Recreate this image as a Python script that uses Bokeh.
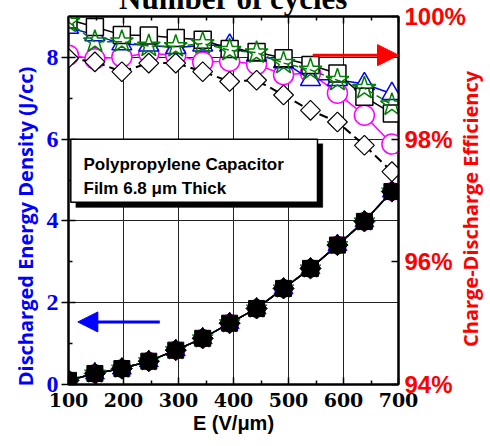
import numpy as np
from bokeh.plotting import figure
from bokeh.layouts import row
from bokeh.models import (Range1d, LinearAxis, FixedTicker, PrintfTickFormatter, Label,
                          BoxAnnotation, Arrow, NormalHead)
from bokeh.core.properties import value
from bokeh.embed import file_html
from bokeh.resources import INLINE

# ---------------- data ----------------
field = [100, 148, 197, 246, 295, 344, 393, 442, 491, 540, 589, 638, 688]

energy_square = [0.10, 0.27, 0.39, 0.57, 0.84, 1.13, 1.50, 1.86, 2.35, 2.84, 3.41, 3.99, 4.72]
energy_triangle = [0.10, 0.27, 0.39, 0.57, 0.84, 1.13, 1.50, 1.86, 2.35, 2.84, 3.41, 3.99, 4.72]
energy_circle = [0.10, 0.27, 0.39, 0.57, 0.84, 1.13, 1.50, 1.86, 2.35, 2.84, 3.41, 3.99, 4.72]
energy_star = [0.10, 0.27, 0.39, 0.57, 0.84, 1.13, 1.50, 1.86, 2.35, 2.84, 3.41, 3.99, 4.72]
energy_diamond = [0.10, 0.27, 0.39, 0.57, 0.84, 1.13, 1.50, 1.86, 2.35, 2.84, 3.41, 3.99, 4.72]

eff_square = [99.95, 99.83, 99.70, 99.69, 99.65, 99.62, 99.47, 99.42, 99.32, 99.21, 99.07, 98.69, 98.42]
eff_triangle = [99.82, 99.70, 99.55, 99.53, 99.49, 99.53, 99.53, 99.37, 99.26, 98.97, 98.97, 98.90, 98.74]
eff_circle = [99.37, 99.31, 99.34, 99.40, 99.37, 99.26, 99.27, 99.22, 99.05, 99.08, 98.75, 98.39, 97.92]
eff_star = [99.91, 99.59, 99.59, 99.52, 99.51, 99.56, 99.45, 99.41, 99.24, 99.13, 98.96, 98.83, 98.56]
eff_diamond = [99.32, 99.26, 99.10, 99.24, 99.24, 99.10, 98.94, 98.96, 98.72, 98.47, 98.28, 97.90, 97.47]

x_ticks = [100, 200, 300, 400, 500, 600, 700]
x_minor = [150, 250, 350, 450, 550, 650]
y_ticks = [0, 2, 4, 6, 8]
y_minor = [1, 3, 5, 7]
eff_ticks = [94, 96, 98, 100]

title_text = "Number of cycles"
left_label = "Discharged Energy Density (J/cc)"
right_label = "Charge-Discharge Efficiency"

BLUE = "#0000FF"
MAGENTA = "#FF00FF"
GREEN = "#008000"
RED = "#FF0000"
NBSP = "\u00a0"

SHIFT = 29  # part of the canvas pushed above the window (title is cut off there)

p = figure(width=490, height=446 + SHIFT, output_backend="svg", toolbar_location=None,
           x_range=Range1d(100, 700), y_range=Range1d(0, 9),
           min_border_left=68, min_border_right=92, min_border_top=16 + SHIFT,
           min_border_bottom=62,
           background_fill_color="white", border_fill_color="white")
p.margin = (-SHIFT, 0, 0, 0)
p.extra_y_ranges = {"eff": Range1d(94, 100)}

p.title.text = title_text
p.title.align = "center"
p.title.text_font = "Liberation Serif"
p.title.text_font_style = "bold"
p.title.text_font_size = "31px"
p.title.text_color = "black"
p.title.standoff = 2
p.title.offset = -6

p.outline_line_color = "black"
p.outline_line_width = 2
p.outline_line_alpha = 1

# grids
p.xgrid.ticker = FixedTicker(ticks=x_ticks)
p.ygrid.ticker = FixedTicker(ticks=y_ticks)
for g in (p.xgrid[0], p.ygrid[0]):
    g.grid_line_color = "#222222"
    g.grid_line_width = 1

# bottom axis
xa = p.xaxis[0]
xa.ticker = FixedTicker(ticks=x_ticks, minor_ticks=x_minor)
xa.axis_label = "E (V/\u03bcm)"
xa.axis_label_text_font = "Liberation Sans"
xa.axis_label_text_font_style = "bold"
xa.axis_label_text_font_size = "20px"
xa.axis_label_text_color = "black"
xa.axis_label_standoff = 2
xa.major_label_text_font = "DejaVu Serif"
xa.major_label_text_font_style = "bold"
xa.major_label_text_font_size = "19px"
xa.major_label_text_color = "black"
xa.major_label_standoff = 8
xa.major_tick_in = 7
xa.major_tick_out = 0
xa.minor_tick_in = 4
xa.minor_tick_out = 0
xa.axis_line_width = 2
xa.major_tick_line_width = 1.5
xa.minor_tick_line_width = 1.5

# left axis
ya = p.yaxis[0]
ya.ticker = FixedTicker(ticks=y_ticks, minor_ticks=y_minor)
ya.axis_label = left_label + NBSP * 10
ya.axis_label_text_font = "Open Sans"
ya.axis_label_text_font_style = "bold"
ya.axis_label_text_font_size = "20px"
ya.axis_label_text_color = BLUE
ya.axis_label_standoff = 5
ya.major_label_text_font = "Liberation Serif"
ya.major_label_text_font_style = "bold"
ya.major_label_text_font_size = "24px"
ya.major_label_text_color = BLUE
ya.major_label_standoff = 3
ya.major_tick_in = 7
ya.major_tick_out = 7
ya.minor_tick_in = 4
ya.minor_tick_out = 0
ya.axis_line_width = 2
ya.major_tick_line_width = 1.5
ya.minor_tick_line_width = 1.5

# right axis (its title is drawn in a narrow overlaid strip, reading bottom-to-top)
ra = LinearAxis(y_range_name="eff", ticker=FixedTicker(ticks=eff_ticks, num_minor_ticks=4),
                formatter=PrintfTickFormatter(format="%d%%"))
ra.major_label_text_font = "Liberation Sans"
ra.major_label_text_font_style = "bold"
ra.major_label_text_font_size = "24px"
ra.major_label_text_color = RED
ra.major_label_standoff = 6
ra.major_tick_in = 7
ra.major_tick_out = 0
ra.minor_tick_in = 4
ra.minor_tick_out = 0
ra.axis_line_width = 2
ra.major_tick_line_width = 1.5
ra.minor_tick_line_width = 1.5
p.add_layout(ra, "right")

# top axis (ticks only)
ta = LinearAxis(ticker=FixedTicker(ticks=x_ticks, minor_ticks=x_minor))
ta.major_label_text_font_size = "0px"
ta.major_label_standoff = 0
ta.major_tick_in = 7
ta.major_tick_out = 0
ta.minor_tick_in = 4
ta.minor_tick_out = 0
ta.axis_line_width = 2
ta.major_tick_line_width = 1.5
ta.minor_tick_line_width = 1.5
p.add_layout(ta, "above")

# ---------------- energy (filled, left axis) ----------------
p.line(field, energy_circle, line_color=MAGENTA, line_width=1.5)
p.scatter(field, energy_circle, marker="circle", size=18, fill_color=MAGENTA, line_color=MAGENTA)
p.line(field, energy_triangle, line_color=BLUE, line_width=1.5)
p.scatter(field, energy_triangle, marker="triangle", size=19, fill_color=BLUE, line_color=BLUE)
p.line(field, energy_star, line_color=GREEN, line_width=1.5)
p.scatter(field, energy_star, marker="star", size=22, fill_color=GREEN, line_color=GREEN)
p.line(field, energy_square, line_color="black", line_width=1.5)
p.scatter(field, energy_square, marker="square", size=16, fill_color="black", line_color="black")
p.line(field, energy_diamond, line_color="black", line_width=1.5, line_dash="8 4")
p.scatter(field, energy_diamond, marker="square", angle=np.pi / 4, size=15,
          fill_color="black", line_color="black")

# ---------------- efficiency (open, right axis) ----------------
p.line(field, eff_circle, y_range_name="eff", line_color=MAGENTA, line_width=1.5)
p.scatter(field, eff_circle, y_range_name="eff", marker="circle", size=20,
          fill_color="white", line_color=MAGENTA, line_width=1.5)
p.line(field, eff_diamond, y_range_name="eff", line_color="black", line_width=2, line_dash="9 5")
p.scatter(field, eff_diamond, y_range_name="eff", marker="square", angle=np.pi / 4, size=14,
          fill_color="white", line_color="black", line_width=1.2)
p.line(field, eff_triangle, y_range_name="eff", line_color=BLUE, line_width=1.5)
p.scatter(field, eff_triangle, y_range_name="eff", marker="triangle", size=20,
          fill_color="white", line_color=BLUE, line_width=1.5)
p.line(field, eff_square, y_range_name="eff", line_color="black", line_width=1.5)
p.scatter(field, eff_square, y_range_name="eff", marker="square", size=17,
          fill_color="white", line_color="black", line_width=1.5)
p.line(field, eff_star, y_range_name="eff", line_color=GREEN, line_width=1.5, line_dash="6 3")
p.scatter(field, eff_star, y_range_name="eff", marker="star", size=24,
          fill_color=None, line_color=GREEN, line_width=1.5)

# ---------------- annotations ----------------
p.add_layout(Arrow(end=NormalHead(size=21, fill_color=RED, line_color=RED),
                   x_start=544, y_start=99.37, x_end=700, y_end=99.37, y_range_name="eff",
                   line_color=RED, line_width=3))
p.add_layout(Arrow(end=NormalHead(size=20, fill_color=BLUE, line_color=BLUE),
                   x_start=266, y_start=1.53, x_end=117, y_end=1.53,
                   line_color=BLUE, line_width=3))

p.add_layout(BoxAnnotation(left=113.3, right=562.4, top=5.89, bottom=4.33,
                           fill_color="black", fill_alpha=1, line_color="black"))
p.add_layout(BoxAnnotation(left=104.2, right=552.7, top=6.0, bottom=4.46,
                           fill_color="white", fill_alpha=1, line_color="black",
                           line_width=1.5, line_alpha=1))

for txt, yy in (("Polypropylene Capacitor", 5.37), ("Film 6.8 \u03bcm Thick", 4.80)):
    p.add_layout(Label(x=127.3, y=yy, text=txt, text_font="Liberation Sans",
                       text_font_style="bold", text_font_size="17px", text_color="black",
                       text_baseline="alphabetic", text_align="left"))

# ---------------- right-hand axis title strip (transparent, overlaid) ----------------
STRIP = 35
p2 = figure(width=STRIP, height=446, output_backend="svg", toolbar_location=None,
            x_range=Range1d(0, STRIP), y_range=Range1d(0, 446),
            x_axis_location=None, y_axis_location=None, min_border=0)
p2.margin = (0, 0, 0, -STRIP)
p2.grid.visible = False
p2.outline_line_color = None
p2.background_fill_alpha = 0
p2.border_fill_alpha = 0
p2.text(x=[15], y=[446 - 215], text=[right_label], angle=np.pi / 2,
        text_align="center", text_baseline="middle",
        text_font=value("Open Sans"), text_font_style="bold", text_font_size="20px",
        text_color=RED)

layout = row(p, p2)
open("out.html", "w").write(file_html(layout, INLINE))
